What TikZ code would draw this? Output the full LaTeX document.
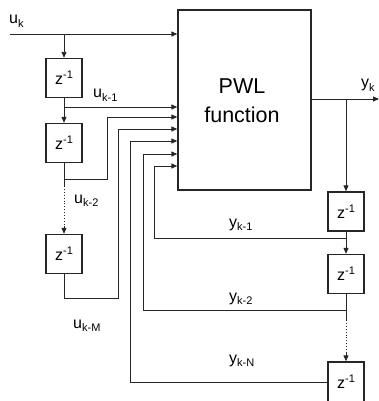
\documentclass[tikz,border=0pt]{standalone}
\usepackage{fontspec}
\setmainfont{Liberation Sans}
\usetikzlibrary{arrows.meta}
\newcommand\sublab[2]{#1\raisebox{-3.8pt}{\fontsize{11}{11}\selectfont #2}}
\newcommand\zinv{z\raisebox{5.8pt}{\fontsize{11}{11}\selectfont -1}}
\begin{document}
\begin{tikzpicture}[x=1pt,y=-1pt,
  line/.style={draw=black!85,line width=0.9pt},
  arr/.style={line,-{Triangle[length=6pt,width=5pt]}},
  delay/.style={draw=black!85,line width=1.3pt,minimum width=36pt,minimum height=39pt,inner sep=0pt,font=\fontsize{16}{16}\selectfont},
  lab/.style={anchor=base west,inner sep=0pt,font=\fontsize{16}{16}\selectfont},
  dotline/.style={line,dotted}]
\useasboundingbox (0,0) rectangle (379,401);
% main block
\node[draw=black!85,line width=1.3pt,minimum width=133pt,minimum height=180pt,inner sep=0pt] (pwl) at (244.5,100) {};
\node[inner sep=0pt,align=center,font=\fontsize{21.5}{29}\selectfont] (pwltext) at (242,101) {PWL\\function};
% delay blocks
\node[delay] (d1) at (64,78) {\zinv};
\node[delay] (d2) at (64,143) {\zinv};
\node[delay] (d3) at (64,254) {\zinv};
\node[delay] (e1) at (346,211.5) {\zinv};
\node[delay] (e2) at (346,274) {\zinv};
\node[delay,minimum height=40pt] (e3) at (346,382) {\zinv};
% coordinates
\coordinate (uin) at (10,34);
\coordinate (s0) at (64,34);
\coordinate (s1) at (64,107);
\coordinate (s2) at (64,179);
\coordinate (s2a) at (64,186);
\coordinate (s2b) at (64,226);
\coordinate (s3) at (64,298);
\coordinate (yout) at (379,99);
\coordinate (t0) at (346,99);
\coordinate (t1) at (346,238);
\coordinate (t2) at (346,310);
\coordinate (t2a) at (346,320);
\coordinate (t2b) at (346,352);
% input u_k
\draw[arr] (uin) -- (uin -| pwl.west);
\draw[arr] (s0) -- (d1.north);
\draw[arr] (d1.south) -- (d2.north);
\draw[arr] (s1) -- (s1 -| pwl.west);
% u_{k-2}
\draw[arr] (d2.south) -- (s2) -- (107,179) -- (107,117) -- (pwl.west |- 0,117);
\draw[line] (s2) -- (s2a);
\draw[dotline] (s2a) -- (s2b);
\draw[arr] (s2b) -- (d3.north);
% u_{k-M}
\draw[arr] (d3.south) -- (s3) -- (118,298) -- (118,129) -- (pwl.west |- 0,129);
% output
\draw[arr] (pwl.east |- yout) -- (yout);
\draw[arr] (t0) -- (e1.north);
\draw[arr] (e1.south) -- (e2.north);
\draw[line] (e2.south) -- (t2a);
\draw[dotline] (t2a) -- (t2b);
\draw[arr] (t2b) -- (e3.north);
% feedback
\draw[arr] (t1) -- (154,238) -- (154,166) -- (pwl.west |- 0,166);
\draw[arr] (t2) -- (143,310) -- (143,154) -- (pwl.west |- 0,154);
\draw[arr] (e3.west) -- (130,382) -- (130,141) -- (pwl.west |- 0,141);
% labels
\node[lab] (luk) at (9,24) {\sublab{u}{k}};
\node[lab] (luk1) at (93,98) {\sublab{u}{k-1}};
\node[lab] (luk2) at (74,203) {\sublab{u}{k-2}};
\node[lab] (lukm) at (73,328) {\sublab{u}{k-M}};
\node[lab] (lyk) at (361,88) {\sublab{y}{k}};
\node[lab] (lyk1) at (229,227) {\sublab{y}{k-1}};
\node[lab] (lyk2) at (229,301) {\sublab{y}{k-2}};
\node[lab] (lykn) at (229,363) {\sublab{y}{k-N}};
\end{tikzpicture}
\end{document}
